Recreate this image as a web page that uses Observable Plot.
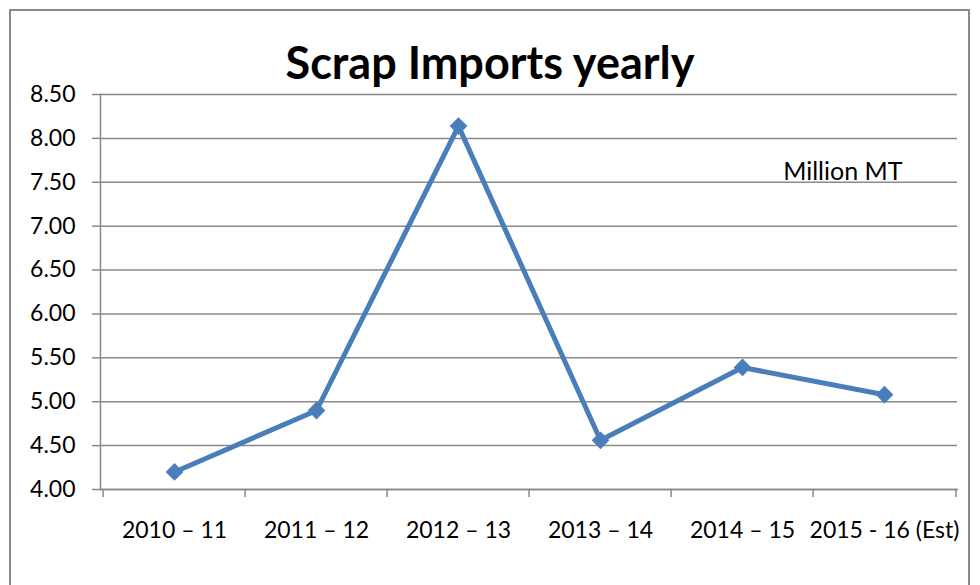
<!DOCTYPE html>
<html>
<head>
<meta charset="utf-8">
<script src="https://cdn.jsdelivr.net/npm/d3@7"></script>
<script src="https://cdn.jsdelivr.net/npm/@observablehq/plot@0.6"></script>
<style>
  html, body { margin: 0; padding: 0; background: #fff; }
  #wrap { position: relative; width: 980px; height: 585px; overflow: hidden; font-family: Lato, "Open Sans", sans-serif; }
  #border { position: absolute; left: 9px; top: 9px; width: 961px; height: 600px; border: 2px solid #898989; box-sizing: border-box; pointer-events: none; }
  #title { position: absolute; left: 0; top: 40px; width: 980px; text-align: center; font-size: 45px; font-weight: 700; color: #000; line-height: 1; }
  #chart { position: absolute; left: 0; top: 0; }
</style>
</head>
<body>
<div id="wrap">
  <div id="chart"></div>
  <div id="border"></div>
  <div id="title">Scrap Imports yearly</div>
</div>
<script>
const categories = ["2010 \u2013 11", "2011 \u2013 12", "2012 \u2013 13", "2013 \u2013 14", "2014 \u2013 15", "2015 - 16 (Est)"];
const values = [4.20, 4.90, 8.14, 4.56, 5.39, 5.08];
const yTicks = [4.0, 4.5, 5.0, 5.5, 6.0, 6.5, 7.0, 7.5, 8.0, 8.5];
const unitLabel = "Million MT";

const data = categories.map((c, i) => ({category: c, value: values[i]}));

const W = 980, H = 585, mL = 100, mR = 23, mT = 94, mB = 96;
const step = (W - mL - mR) / categories.length;
const innerH = H - mT - mB;
const grey = "#898989";
const blue = "#4A7EBB";

const plot = Plot.plot({
  width: W,
  height: H,
  marginLeft: mL,
  marginRight: mR,
  marginTop: mT,
  marginBottom: mB,
  style: {fontFamily: "Lato, 'Open Sans', sans-serif", background: "transparent", color: "#000"},
  x: {type: "point", domain: categories, padding: 0.5},
  y: {domain: [4, 8.5]},
  marks: [
    Plot.gridY(yTicks, {stroke: grey, strokeOpacity: 1, strokeWidth: 1.5}),
    Plot.axisY({ticks: yTicks, tickFormat: d => d.toFixed(2), tickSize: 8, tickPadding: 17, fontSize: 23, stroke: grey, strokeWidth: 1.5, label: null, color: "#000"}),
    Plot.frame({anchor: "left", stroke: grey, strokeWidth: 1.5}),
    Plot.frame({anchor: "bottom", stroke: grey, strokeWidth: 1.5}),
    Plot.ruleX(categories, {x: d => d, dx: -step / 2, insetTop: innerH, insetBottom: -8, stroke: grey, strokeWidth: 1.5}),
    Plot.ruleX(categories.slice(-1), {x: d => d, dx: step / 2, insetTop: innerH, insetBottom: -8, stroke: grey, strokeWidth: 1.5}),
    Plot.axisX({tickSize: 0, tickPadding: 32, fontSize: 23, label: null, color: "#000"}),
    Plot.line(data, {x: "category", y: "value", stroke: blue, strokeWidth: 5, strokeLinejoin: "round"}),
    Plot.dot(data, {x: "category", y: "value", symbol: "diamond2", r: 8, fill: blue, stroke: "none"}),
    Plot.text([unitLabel], {frameAnchor: "top-right", text: d => d, dx: -55, dy: 68, fontSize: 25, textAnchor: "end", fill: "#000"})
  ]
});
document.getElementById("chart").appendChild(plot);
</script>
</body>
</html>
